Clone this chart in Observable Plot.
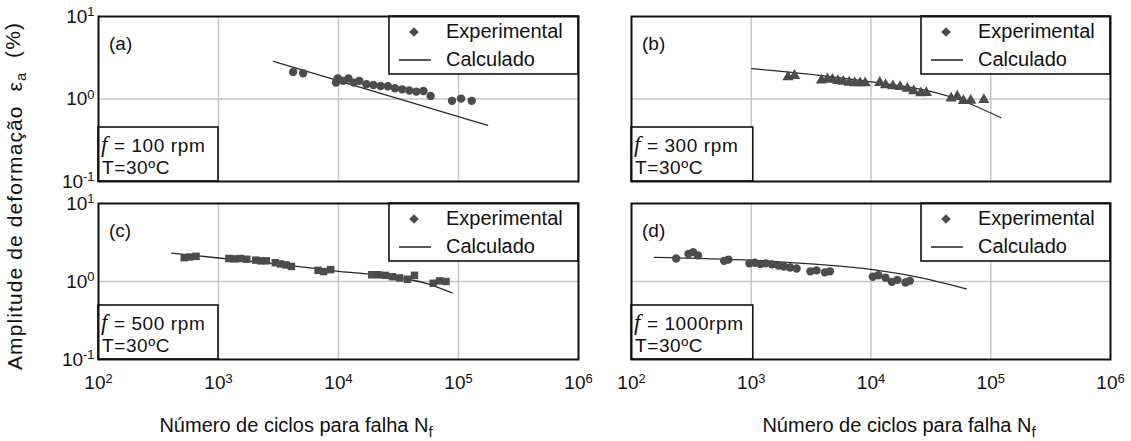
<!DOCTYPE html>
<html>
<head>
<meta charset="utf-8">
<script src="https://cdn.jsdelivr.net/npm/d3@7"></script>
<script src="https://cdn.jsdelivr.net/npm/@observablehq/plot@0.6"></script>
<style>
  html, body { margin: 0; padding: 0; background: #fff; }
  #chart { position: relative; width: 1131px; height: 441px; overflow: hidden; }
  #chart > svg { position: absolute; }
</style>
</head>
<body>
<div id="chart"></div>
<script>
// ---- Data: strain amplitude (%) vs. cycles to failure, four test frequencies ----
const panelTags = ["(a)", "(b)", "(c)", "(d)"];
const freqLabels = ["= 100 rpm", "= 300 rpm", "= 500 rpm", "= 1000rpm"];
const tempLabel = "T=30ºC";
const legendLabels = ["Experimental", "Calculado"];

const xTicks = [1e2, 1e3, 1e4, 1e5, 1e6];
const yTicks = [1e-1, 1e0, 1e1];
const xGrid = [1e3, 1e4, 1e5];
const yGrid = [1e0];

// (a) f = 100 rpm
const expN_a = [4190, 5070, 9530, 9860, 10940, 12120, 13430, 14890, 17070, 19590, 22450, 25760, 29530, 33880, 38840, 44550, 51080, 58590, 88300, 105000, 128900];
const expEps_a = [2.13, 2.05, 1.58, 1.78, 1.66, 1.77, 1.58, 1.66, 1.51, 1.48, 1.44, 1.43, 1.35, 1.31, 1.27, 1.23, 1.25, 1.09, 0.95, 1.01, 0.95];
const calcN_a = [2870, 175000];
const calcEps_a = [2.85, 0.48];

// (b) f = 300 rpm
const expN_b = [2028, 2300, 3860, 4320, 4760, 5290, 5870, 6570, 7300, 8110, 8940, 11830, 13240, 15220, 17510, 20140, 22690, 26090, 28970, 46700, 52500, 59100, 68000, 87500];
const expEps_b = [1.85, 1.92, 1.69, 1.75, 1.72, 1.66, 1.63, 1.59, 1.56, 1.56, 1.56, 1.58, 1.48, 1.44, 1.41, 1.34, 1.25, 1.18, 1.19, 1.02, 1.08, 0.95, 0.96, 0.98];
const calcN_b = [1007, 3548, 10070, 28970, 58340, 121600];
const calcEps_b = [2.33, 1.95, 1.61, 1.27, 0.946, 0.593];

// (c) f = 500 rpm
const expN_c = [518, 574, 650, 1219, 1352, 1520, 1719, 2040, 2261, 2506, 2973, 3296, 3655, 4050, 6760, 7500, 8600, 18900, 21400, 24500, 28100, 32300, 37500, 43000, 61500, 69500, 78700];
const expEps_c = [2.02, 2.06, 2.10, 1.97, 1.95, 1.97, 1.93, 1.88, 1.84, 1.84, 1.74, 1.68, 1.63, 1.56, 1.39, 1.34, 1.42, 1.22, 1.22, 1.20, 1.15, 1.11, 1.07, 1.20, 0.95, 1.02, 1.00];
const calcN_c = [407, 1007, 3184, 10070, 28510, 56620, 88310];
const calcEps_c = [2.31, 2.00, 1.67, 1.35, 1.15, 0.927, 0.713];

// (d) f = 1000 rpm
const expN_d = [236, 299, 327, 359, 593, 644, 966, 1072, 1191, 1322, 1489, 1688, 1874, 2110, 2392, 3120, 3510, 4120, 4540, 10350, 11500, 13200, 14900, 16600, 19400, 21100];
const expEps_d = [1.97, 2.26, 2.38, 2.16, 1.84, 1.91, 1.71, 1.74, 1.68, 1.71, 1.66, 1.60, 1.56, 1.51, 1.47, 1.35, 1.39, 1.31, 1.35, 1.15, 1.20, 1.12, 0.99, 1.05, 0.97, 1.02];
const calcN_d = [155, 1021, 3388, 10350, 27480, 62660];
const calcEps_d = [2.04, 1.87, 1.67, 1.42, 1.10, 0.805];

// ---- Styling ----
const FONT = "'Liberation Sans', Arial, Helvetica, sans-serif";
const INK = "#111";
const GRID = "#c6c6c6";
const DOT = "#4c4c4c";

const panels = [
  {tag: panelTags[0], freq: freqLabels[0], expN: expN_a, expE: expEps_a, calcN: calcN_a, calcE: calcEps_a, symbol: "circle", col: 0, row: 0},
  {tag: panelTags[1], freq: freqLabels[1], expN: expN_b, expE: expEps_b, calcN: calcN_b, calcE: calcEps_b, symbol: "triangle", col: 1, row: 0},
  {tag: panelTags[2], freq: freqLabels[2], expN: expN_c, expE: expEps_c, calcN: calcN_c, calcE: calcEps_c, symbol: "square", col: 0, row: 1},
  {tag: panelTags[3], freq: freqLabels[3], expN: expN_d, expE: expEps_d, calcN: calcN_d, calcE: calcEps_d, symbol: "circle", col: 1, row: 1}
];

// Grid of small multiples: column/row placement of each SVG
const cols = [
  {left: 0, width: 600, mL: 98, mR: 22},
  {left: 600, width: 531, mL: 31, mR: 21}
];
const rows = [
  {top: 0, height: 192, mT: 16, mB: 11},
  {top: 192, height: 249, mT: 11, mB: 82}
];

const powerFormat = d => "10^" + Math.round(Math.log10(d));

// Legend, panel tag and test-condition box, drawn in frame coordinates
function panelAnnotations(p) {
  return (index, scales, values, dims) => {
    const left = dims.marginLeft, right = dims.width - dims.marginRight;
    const top = dims.marginTop, bottom = dims.height - dims.marginBottom;
    const sx = typeof scales.x === "function" ? scales.x : (v => left + (right - left) * (Math.log10(v) - 2) / 4);
    const g = d3.create("svg:g")
      .attr("font-family", FONT).attr("fill", INK).attr("text-anchor", "start");

    g.append("text")
      .attr("x", left + 11).attr("y", top + 27).attr("dy", "0.35em")
      .attr("font-size", 19).text(p.tag);

    // legend box (top right)
    const lw = 189, lh = 58, lx = right - lw;
    g.append("rect")
      .attr("x", lx).attr("y", top).attr("width", lw).attr("height", lh)
      .attr("fill", "#fff").attr("stroke", INK).attr("stroke-width", 1.6);
    g.append("path")
      .attr("d", d3.symbol(d3.symbolSquare, 46)())
      .attr("transform", `translate(${lx + 25},${top + 16}) rotate(45)`)
      .attr("fill", DOT);
    g.append("line")
      .attr("x1", lx + 10).attr("x2", lx + 42)
      .attr("y1", top + 44).attr("y2", top + 44)
      .attr("stroke", INK).attr("stroke-width", 1.4);
    g.append("text").attr("x", lx + 57).attr("y", top + 15).attr("dy", "0.35em")
      .attr("font-size", 20).text(legendLabels[0]);
    g.append("text").attr("x", lx + 57).attr("y", top + 43).attr("dy", "0.35em")
      .attr("font-size", 20).text(legendLabels[1]);

    // test-condition box (bottom left, up to the 10^3 grid line)
    const bw = sx(1e3) - left + (p.col === 1 ? 2 : 0), bh = 54, by = bottom - bh;
    g.append("rect")
      .attr("x", left).attr("y", by).attr("width", bw).attr("height", bh)
      .attr("fill", "#fff").attr("stroke", INK).attr("stroke-width", 1.6);
    const t1 = g.append("text").attr("x", left + 3).attr("y", by + 18).attr("dy", "0.35em")
      .attr("font-size", 19).attr("letter-spacing", 0.6).style("white-space", "pre");
    t1.append("tspan").attr("font-family", "'Liberation Serif', 'DejaVu Serif', serif")
      .attr("font-style", "italic").attr("font-size", 23).text("f");
    t1.append("tspan").text(" " + p.freq);
    g.append("text").attr("x", left + 4).attr("y", by + 40).attr("dy", "0.35em")
      .attr("font-size", 19).attr("letter-spacing", 0.6).text(tempLabel);

    return g.node();
  };
}

// Replace "10^k" tick strings with a superscripted exponent
function superscriptTicks(svg) {
  d3.select(svg).selectAll("text").each(function () {
    const m = /^10\^(-?\d+)$/.exec(this.textContent.trim());
    if (!m) return;
    const t = d3.select(this);
    t.text(null);
    t.append("tspan").text("10");
    t.append("tspan").attr("dy", "-0.5em").attr("font-size", "0.68em").text(m[1]);
  });
}

const chart = document.getElementById("chart");

for (const p of panels) {
  const c = cols[p.col], r = rows[p.row];
  const exp = p.expN.map((n, i) => ({n, eps: p.expE[i]}));
  const calc = p.calcN.map((n, i) => ({n, eps: p.calcE[i]}));
  const showX = p.row === 1, showY = p.col === 0;

  const svg = Plot.plot({
    width: c.width,
    height: r.height,
    marginLeft: c.mL,
    marginRight: c.mR,
    marginTop: r.mT,
    marginBottom: r.mB,
    style: {fontFamily: FONT, fontSize: "19px", color: INK, background: "transparent", overflow: "visible"},
    x: {
      type: "log", domain: [1e2, 1e6],
      axis: showX ? "bottom" : null,
      ticks: xTicks, tickSize: 0, tickPadding: 16,
      tickFormat: powerFormat, label: null
    },
    y: {
      type: "log", domain: [1e-1, 1e1],
      axis: showY ? "left" : null,
      ticks: yTicks, tickSize: 0, tickPadding: 4,
      tickFormat: powerFormat, label: null
    },
    marks: [
      Plot.ruleX(xGrid, {stroke: GRID, strokeWidth: 1.5}),
      Plot.ruleY(yGrid, {stroke: GRID, strokeWidth: 1.5}),
      Plot.line(calc, {x: "n", y: "eps", stroke: "#2a2a2a", strokeWidth: 1.3, curve: "monotone-x"}),
      Plot.dot(exp, {x: "n", y: "eps", symbol: () => p.symbol, fill: DOT, stroke: "none", r: 4.2}),
      panelAnnotations(p),
      Plot.frame({stroke: INK, strokeWidth: 2})
    ]
  });
  superscriptTicks(svg);
  svg.style.left = c.left + "px";
  svg.style.top = r.top + "px";
  chart.appendChild(svg);
}

// Shared axis titles
const overlay = d3.create("svg")
  .attr("width", 1131).attr("height", 441)
  .style("left", "0px").style("top", "0px").style("pointer-events", "none")
  .attr("font-family", FONT).attr("fill", INK);

const yTitle = overlay.append("text")
  .attr("transform", "translate(22,196) rotate(-90)")
  .attr("text-anchor", "middle").attr("font-size", 21)
  .attr("letter-spacing", 1.1).style("white-space", "pre");
yTitle.append("tspan").text("Amplitude de deformação  ε");
yTitle.append("tspan").attr("dy", "0.3em").attr("font-size", "0.7em").text("a");
yTitle.append("tspan").attr("dy", "-0.3em").text("  (%)");

for (const cx of [296, 899]) {
  const xt = overlay.append("text")
    .attr("x", cx).attr("y", 432).attr("text-anchor", "middle").attr("font-size", 20);
  xt.append("tspan").text("Número de ciclos para falha N");
  xt.append("tspan").attr("dy", "0.3em").attr("font-size", "0.75em").text("f");
}

chart.appendChild(overlay.node());
</script>
</body>
</html>
